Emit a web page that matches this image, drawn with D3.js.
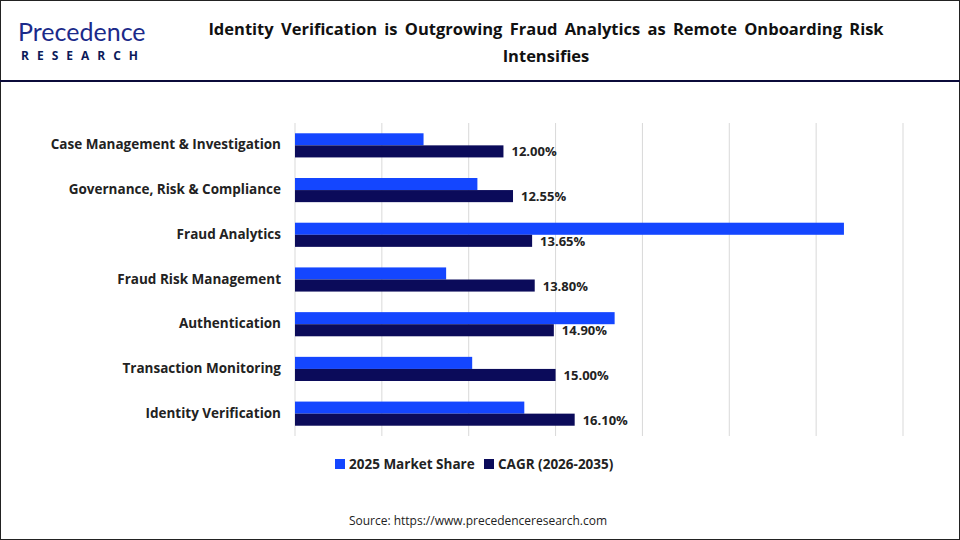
<!DOCTYPE html>
<html><head><meta charset="utf-8">
<script src="https://cdn.jsdelivr.net/npm/d3@7"></script>
<style>body{margin:0;background:#fff;font-family:"Open Sans",sans-serif}</style>
</head><body><div id="chart"></div>
<script>
// chart data
const categories = ["Case Management & Investigation", "Governance, Risk & Compliance", "Fraud Analytics",
  "Fraud Risk Management", "Authentication", "Transaction Monitoring", "Identity Verification"];
const marketShare = [7.4, 10.5, 31.6, 8.7, 18.4, 10.2, 13.2];
const cagr = [12.00, 12.55, 13.65, 13.80, 14.90, 15.00, 16.10];
const seriesNames = ["2025 Market Share", "CAGR (2026-2035)"];
const colors = ["#1446ff", "#0b0b5a"];
const xTicks = [0, 5, 10, 15, 20, 25, 30, 35];

const svg = d3.select("#chart").append("svg").attr("width", 960).attr("height", 540);
svg.append("rect").attr("x", 0.5).attr("y", 0.5).attr("width", 959).attr("height", 539)
  .attr("fill", "#fff").attr("stroke", "#222");
svg.append("line").attr("x1", 0).attr("x2", 960).attr("y1", 81).attr("y2", 81)
  .attr("stroke", "#0b0b3a").attr("stroke-width", 2);

// logo
const logo = svg.append("g");
logo.append("text").attr("x", 18).attr("y", 41).attr("font-size", 25).attr("font-family", "Lato, sans-serif")
  .attr("fill", "#1b2a8a").text("Precedence");
logo.append("text").attr("x", 21).attr("y", 60).attr("font-size", 12).attr("font-weight", 700)
  .attr("letter-spacing", 8).attr("fill", "#0b1a5a").text("RESEARCH");

svg.append("text").attr("x", 546).attr("y", 35).attr("text-anchor", "middle")
  .attr("font-size", 16.5).attr("font-weight", 700).attr("fill", "#111").attr("word-spacing", 3)
  .text("Identity Verification is Outgrowing Fraud Analytics as Remote Onboarding Risk");
svg.append("text").attr("x", 546).attr("y", 62).attr("text-anchor", "middle")
  .attr("font-size", 16.5).attr("font-weight", 700).attr("fill", "#111").text("Intensifies");

const x = d3.scaleLinear().domain([0, 35]).range([295, 903]);
const y = d3.scaleBand().domain(categories).range([123, 436]).paddingInner(0.46).paddingOuter(0.23);

svg.append("g").selectAll("line").data(xTicks).join("line")
  .attr("x1", d => x(d)).attr("x2", d => x(d)).attr("y1", 123).attr("y2", 436)
  .attr("stroke", "#d9d9d9");

const bh = y.bandwidth() / 2;
categories.forEach((c, i) => {
  svg.append("rect").attr("x", x(0)).attr("y", y(c)).attr("width", x(marketShare[i]) - x(0))
    .attr("height", bh).attr("fill", colors[0]);
  svg.append("rect").attr("x", x(0)).attr("y", y(c) + bh).attr("width", x(cagr[i]) - x(0))
    .attr("height", bh).attr("fill", colors[1]);
  svg.append("text").attr("x", x(cagr[i]) + 8).attr("y", y(c) + bh * 2 - 1)
    .attr("font-size", 13).attr("font-weight", 700).attr("fill", "#222")
    .text(cagr[i].toFixed(2) + "%");
  svg.append("text").attr("x", 281).attr("y", y(c) + bh + 4).attr("text-anchor", "end")
    .attr("font-size", 13.5).attr("font-weight", 700).attr("fill", "#222").text(c);
});

// legend
const leg = svg.append("g");
[[335, 0], [484, 1]].forEach(([lx, i]) => {
  leg.append("rect").attr("x", lx).attr("y", 459).attr("width", 10).attr("height", 10).attr("fill", colors[i]);
  leg.append("text").attr("x", lx + 14).attr("y", 469).attr("font-size", 13.5).attr("font-weight", 700)
    .attr("fill", "#222").text(seriesNames[i]);
});

svg.append("text").attr("x", 478).attr("y", 525).attr("text-anchor", "middle").attr("font-size", 12)
  .attr("fill", "#222").text("Source: https://www.precedenceresearch.com");
</script></body></html>
